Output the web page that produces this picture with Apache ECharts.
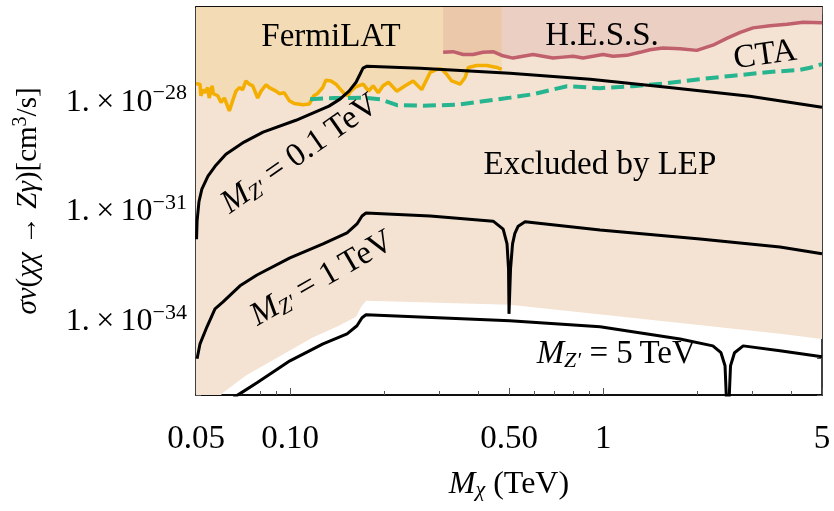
<!DOCTYPE html>
<html>
<head>
<meta charset="utf-8">
<script src="https://cdn.jsdelivr.net/npm/echarts@6/dist/echarts.min.js"></script>
<style>
  html, body { margin: 0; padding: 0; background: #fff; }
  #chart { width: 834px; height: 511px; }
</style>
</head>
<body>
<div id="chart"></div>
<script>
// M_chi in TeV, sigma v in cm^3/s
const xTicks = [0.05, 0.1, 0.5, 1, 5];
const xTickLabels = ["0.05", "0.10", "0.50", "1", "5"];
const xMinorTicks = [0.06, 0.07, 0.08, 0.09, 0.2, 0.3, 0.4, 0.6, 0.7, 0.8, 0.9, 2, 3, 4];
const yTicks = [1e-28, 1e-31, 1e-34];
const yTickLabels = ["1.×10^−28", "1.×10^−31", "1.×10^−34"];
const yMinorTicks = [1e-36, 1e-35, 1e-34, 1e-33, 1e-32, 1e-31, 1e-30, 1e-29, 1e-28, 1e-27, 1e-26];

const lepBoundary = [[0.05, 2e-37], [0.061, 1.16e-36], [0.0722, 3.4e-36], [0.092, 1.11e-35], [0.118, 3.7e-35],
  [0.143, 7.8e-35], [0.1623, 1.37e-34], [0.1687, 2.57e-34], [0.1746, 3.74e-34], [0.503, 2.9e-34],
  [1.41, 1.13e-34], [3.67, 4.7e-35], [5.0, 3.4e-35]];

const fermiLAT = [[0.0500, 3.2e-28], [0.0515, 3.1e-28], [0.0518, 1.5e-28], [0.0528, 2.2e-28], [0.0535, 1.8e-28],
  [0.0545, 2.5e-28], [0.0551, 1.3e-28], [0.0563, 2.8e-28], [0.0568, 1.7e-28], [0.0587, 1.5e-28],
  [0.0601, 9.8e-29], [0.0616, 1.3e-28], [0.0639, 5.8e-29], [0.0655, 1.1e-28], [0.0671, 2.0e-28],
  [0.0688, 2.5e-28], [0.0705, 2.2e-28], [0.0722, 3.8e-28], [0.0740, 3.1e-28], [0.0759, 2.8e-28],
  [0.0787, 1.3e-28], [0.0807, 2.0e-28], [0.0837, 3.0e-28], [0.0857, 2.5e-28], [0.0901, 2.0e-28],
  [0.0923, 1.7e-28], [0.0957, 1.8e-28], [0.0993, 1.1e-28], [0.103, 9.2e-29], [0.110, 8.5e-29],
  [0.115, 8.9e-29], [0.119, 1.5e-28], [0.122, 1.7e-28], [0.127, 2.5e-28], [0.130, 4.0e-28],
  [0.135, 3.8e-28], [0.140, 3.1e-28], [0.145, 2.2e-28], [0.149, 1.7e-28], [0.153, 1.5e-28],
  [0.156, 2.0e-28], [0.162, 2.6e-28], [0.171, 3.1e-28], [0.178, 2.0e-28], [0.184, 2.8e-28],
  [0.191, 1.8e-28], [0.198, 2.8e-28], [0.206, 3.5e-28], [0.219, 2.0e-28], [0.233, 2.8e-28],
  [0.247, 3.8e-28], [0.263, 2.2e-28], [0.280, 6.5e-28], [0.294, 7.9e-28], [0.305, 7.9e-28],
  [0.316, 5.8e-28], [0.328, 3.8e-28], [0.349, 3.1e-28], [0.362, 4.7e-28], [0.371, 8.9e-28],
  [0.394, 1.0e-27], [0.425, 1.0e-27], [0.457, 8.9e-28], [0.474, 7.9e-28]];

const hess = [[0.308, 2.3e-27], [0.331, 2.4e-27], [0.357, 2.0e-27], [0.384, 2.0e-27], [0.413, 2.3e-27],
  [0.445, 2.4e-27], [0.478, 1.85e-27], [0.515, 1.6e-27], [0.554, 1.8e-27], [0.597, 2.0e-27],
  [0.642, 1.8e-27], [0.691, 1.6e-27], [0.744, 1.7e-27], [0.801, 1.8e-27], [0.862, 1.6e-27],
  [0.928, 1.8e-27], [0.998, 2.0e-27], [1.075, 1.8e-27], [1.19, 1.9e-27], [1.31, 2.3e-27],
  [1.41, 2.7e-27], [1.55, 3.0e-27], [1.76, 2.9e-27], [1.99, 2.6e-27], [2.24, 3.6e-27],
  [2.49, 5.6e-27], [2.74, 8.1e-27], [3.01, 1.07e-26], [3.41, 1.22e-26], [3.87, 1.34e-26],
  [4.35, 1.52e-26], [5.0, 1.47e-26]];

const cta = [[0.1157, 1.21e-28], [0.139, 1.29e-28], [0.1708, 1.33e-28], [0.1936, 1.21e-28], [0.2195, 8.3e-29],
  [0.2655, 8.0e-29], [0.3411, 8.5e-29], [0.4129, 1.06e-28], [0.5038, 1.33e-28], [0.597, 1.65e-28],
  [0.766, 2.73e-28], [0.976, 2.41e-28], [1.245, 2.73e-28], [1.599, 3.3e-28], [2.038, 4.24e-28],
  [2.598, 5.28e-28], [3.337, 6.58e-28], [4.253, 7.69e-28], [4.578, 8.7e-28], [5.0, 1.09e-27]];

const mz01 = [[0.0502, 1.8e-32], [0.0504, 5.7e-32], [0.0511, 1.9e-31], [0.0522, 4.2e-31], [0.0546, 9.6e-31],
  [0.0579, 1.9e-30], [0.0623, 3.8e-30], [0.0712, 8.1e-30], [0.0819, 1.52e-29], [0.1043, 3.2e-29],
  [0.133, 7.8e-29], [0.1442, 1.21e-28], [0.1541, 2.0e-28], [0.1623, 3.5e-28], [0.1671, 5.8e-28],
  [0.1708, 8.5e-28], [0.1759, 9.6e-28], [0.26, 8.5e-28], [0.503, 6.2e-28], [0.908, 4.2e-28],
  [1.60, 2.56e-28], [2.94, 1.46e-28], [5.0, 7.3e-29]];

const mz1 = [[0.0504, 9.8e-36], [0.0515, 2.5e-35], [0.0542, 7.3e-35], [0.0575, 2.26e-34], [0.061, 3.5e-34],
  [0.0691, 9.6e-34], [0.0783, 1.9e-33], [0.0998, 5.6e-33], [0.1273, 1.34e-32], [0.1519, 2.68e-32],
  [0.1634, 4.7e-32], [0.1696, 7.8e-32], [0.1746, 9.4e-32], [0.28, 7.8e-32], [0.445, 5.6e-32],
  [0.479, 3.4e-32], [0.4928, 1.35e-32], [0.4983, 2.8e-33], [0.5, 1.65e-34], [0.5057, 2.8e-33],
  [0.5132, 1.35e-32], [0.522, 2.6e-32], [0.535, 4.1e-32], [0.5626, 5.4e-32], [0.977, 3.2e-32],
  [2.04, 1.84e-32], [3.67, 1.11e-32], [5.0, 7.2e-33]];

const mz5 = [[0.066, 8.5e-37], [0.0691, 1.09e-36], [0.0783, 2.17e-36], [0.0998, 8.6e-36], [0.1273, 2.5e-35],
  [0.1519, 4.7e-35], [0.1634, 7.8e-35], [0.1696, 1.29e-34], [0.1746, 1.55e-34], [0.503, 1.07e-34],
  [0.977, 7.3e-35], [1.76, 3.4e-35], [2.24, 2.2e-35], [2.378, 1.43e-35], [2.45, 6.3e-36], [2.5, 1e-37],
  [2.551, 6.3e-36], [2.627, 1.43e-35], [2.80, 2.2e-35], [3.67, 1.62e-35], [5.0, 1.11e-35]];

// text annotations: [M, sigma, text, rotation]
const notes = [
  [0.135, 5.9e-27, "{r|FermiLAT}", 0],
  [0.991, 6.3e-27, "{r|H.E.S.S.}", 0],
  [3.29, 1.9e-27, "{r|CTA}", 8],
  [0.976, 1.9e-30, "{r|Excluded by LEP}", 0],
  [0.1075, 3.8e-30, "{i|M}{sub|Z′}{r| = 0.1\u2009TeV}", 35],
  [0.1264, 1.5e-33, "{i|M}{sub|Z′}{r| = 1\u2009TeV}", 30],
  [1.10, 1.26e-35, "{i|M}{sub|Z′}{r| = 5\u2009TeV}", 0]
];

const lg = v => Math.log10(v);
const toXY = pts => pts.map(([m, s]) => [lg(m), lg(s)]);
const near = (a, b) => Math.abs(a - b) < 1e-6;

const serif = '"Liberation Serif", "DejaVu Serif", serif';
function richSet(size) {
  const small = Math.round(size * 0.68);
  return {
    r: { fontFamily: serif, fontSize: size, color: "#000", lineHeight: size + 3 },
    i: { fontFamily: serif, fontSize: size, fontStyle: "italic", color: "#000", lineHeight: size + 3 },
    sub: { fontFamily: serif, fontSize: small, fontStyle: "italic", color: "#000", lineHeight: small + 1, padding: [Math.round(size * 0.39), 0, 0, 0] },
    sup: { fontFamily: serif, fontSize: small, color: "#000", lineHeight: small + 1, padding: [0, 0, Math.round(size * 0.52), 0] }
  };
}
const richNote = richSet(33);
const richTick = richSet(32);
const richTitle = richSet(29);

const xMin = lg(0.05), xMax = lg(5);
const yMin = -36, yMax = -25.4;

function xAxis(position, values, len, labels) {
  return {
    type: "value", min: xMin, max: xMax, position: position,
    axisLine: { show: true, onZero: false, lineStyle: { color: "#000", width: 1.5 } },
    axisTick: { show: true, inside: true, length: len, customValues: values.map(lg), lineStyle: { color: "#555" } },
    axisLabel: labels ? {
      customValues: xTicks.map(lg), margin: 28, fontFamily: serif, fontSize: 33, color: "#000",
      formatter: v => { const i = xTicks.findIndex(t => near(lg(t), v)); return i < 0 ? "" : xTickLabels[i]; }
    } : { show: false },
    splitLine: { show: false }
  };
}

function yAxis(position, labels) {
  return {
    type: "value", min: yMin, max: yMax, position: position,
    axisLine: { show: true, onZero: false, lineStyle: { color: "#000", width: 1.5 } },
    axisTick: { show: true, inside: true, length: 5, customValues: yMinorTicks.map(lg), lineStyle: { color: "#555" } },
    axisLabel: labels ? {
      customValues: yTicks.map(lg), margin: 9, rich: richTick,
      formatter: v => {
        const i = yTicks.findIndex(t => near(lg(t), v));
        if (i < 0) return "";
        const [base, exp] = yTickLabels[i].split("^");
        return "{r|" + base.replace("×", "\u2009×\u2009") + "}{sup|" + exp + "}";
      }
    } : { show: false },
    splitLine: { show: false }
  };
}

const bottom = xAxis("bottom", xTicks, 7, true);
bottom.name = "{i|M}{sub|χ}{r| (TeV)}";
bottom.nameLocation = "middle";
bottom.nameGap = 72;
bottom.nameTextStyle = { rich: richSet(32) };

const left = yAxis("left", true);
left.name = "{i|σv}{r|(}{i|χχ}{r| → }{i|Zγ}{r|)[cm}{sup|3}{r|/s]}";
left.nameLocation = "middle";
left.nameRotate = 90;
left.nameGap = 152;
left.nameTextStyle = { rich: richTitle };

function curve(data, color, width, type, z) {
  return {
    type: "line", data: toXY(data), symbol: "none", clip: true, z: z,
    lineStyle: { color: color, width: width, type: type || "solid" }
  };
}

const chart = echarts.init(document.getElementById("chart"), null, { renderer: "canvas" });
chart.setOption({
  animation: false,
  grid: { left: 196, right: 12, top: 7, bottom: 116, containLabel: false, outerBoundsMode: "none" },
  xAxis: [bottom, xAxis("bottom", xMinorTicks, 4, false), xAxis("top", xTicks, 7, false), xAxis("top", xMinorTicks, 4, false)],
  yAxis: [left, yAxis("right", false)],
  series: [
    {
      type: "line", data: toXY(lepBoundary), symbol: "none", clip: true, z: 1,
      lineStyle: { width: 0 }, areaStyle: { color: "#f4e3d3", opacity: 1, origin: "end" }
    },
    Object.assign(curve(fermiLAT, "#f3ae00", 3.5, "solid", 2), { areaStyle: { color: "rgba(240,170,0,0.2)", origin: "end" } }),
    Object.assign(curve(hess, "#c0606c", 3.5, "solid", 3), { areaStyle: { color: "rgba(194,97,110,0.22)", origin: "end" } }),
    curve(cta, "#26b58f", 4, [13, 6], 4),
    curve(mz01, "#000", 3, "solid", 5),
    curve(mz1, "#000", 3, "solid", 5),
    curve(mz5, "#000", 3, "solid", 5),
    {
      type: "scatter", z: 6, symbolSize: 1, itemStyle: { color: "rgba(0,0,0,0)" },
      data: notes.map(([m, s, text, rot]) => ({
        value: [lg(m), lg(s)],
        label: {
          show: true, position: "inside", formatter: text, rotate: rot, rich: richNote,
          color: "#000", textBorderWidth: 0, opacity: 1
        }
      }))
    }
  ]
});
</script>
</body>
</html>
